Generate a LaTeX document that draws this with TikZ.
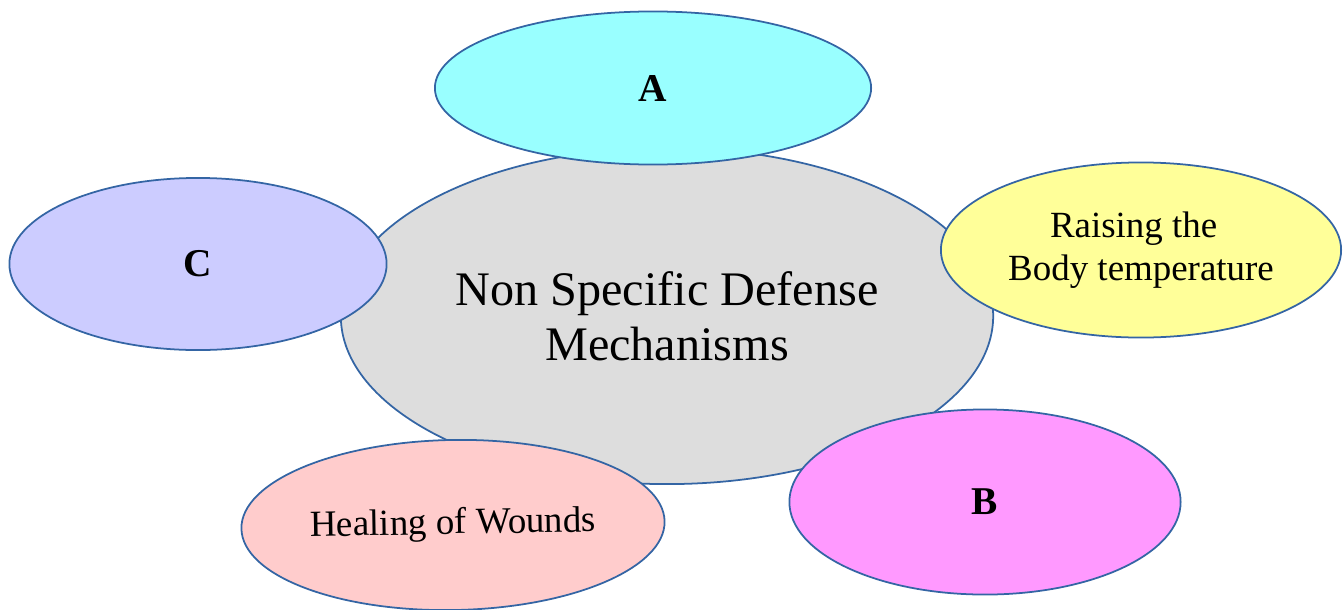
\documentclass[tikz,border=0pt]{standalone}
\usepackage{fontspec}
\setmainfont{Liberation Serif}
\usetikzlibrary{shapes.geometric}
\definecolor{rim}{HTML}{3465A4}
\definecolor{mechgrey}{HTML}{DDDDDD}
\definecolor{acyan}{HTML}{99FFFF}
\definecolor{clav}{HTML}{CCCCFF}
\definecolor{bodyyel}{HTML}{FFFF99}
\definecolor{bmag}{HTML}{FF99FF}
\definecolor{woundpink}{HTML}{FFCCCC}
\begin{document}
\begin{tikzpicture}[x=0.01cm,y=-0.01cm,line join=round,
		bubble/.style={ellipse,draw=rim,line width=0.5pt,inner sep=0pt,align=center},
		bigtxt/.style={font=\fontsize{13.7}{15.6}\selectfont},
		smalltxt/.style={font=\fontsize{10.5}{12.2}\selectfont},
		tag/.style={font=\fontsize{11.2}{13}\selectfont\bfseries}]
	\useasboundingbox (0,0) rectangle (1343,609);
	% centre
	\node[bubble,bigtxt,fill=mechgrey,minimum width=6.52cm,minimum height=3.36cm] (mech) at (667,316)
	{Non Specific Defense\\Mechanisms};
	% outer bubbles
	\node[bubble,tag,fill=acyan,minimum width=4.36cm,minimum height=1.53cm] (A) at (653,88) {A};
	\node[bubble,tag,fill=clav,minimum width=3.77cm,minimum height=1.72cm] (C) at (198,264) {C};
	\node[bubble,smalltxt,fill=bodyyel,minimum width=4.00cm,minimum height=1.75cm] (body) at (1141,250)
	{Raising the\hspace*{.4em}\\Body temperature};
	\node[bubble,tag,fill=bmag,minimum width=3.91cm,minimum height=1.85cm] (B) at (985,502) {B};
	\node[bubble,smalltxt,fill=woundpink,minimum width=4.23cm,minimum height=1.70cm,rotate=1] (wounds) at (453,525)
	{Healing of Wounds};
\end{tikzpicture}
\end{document}
